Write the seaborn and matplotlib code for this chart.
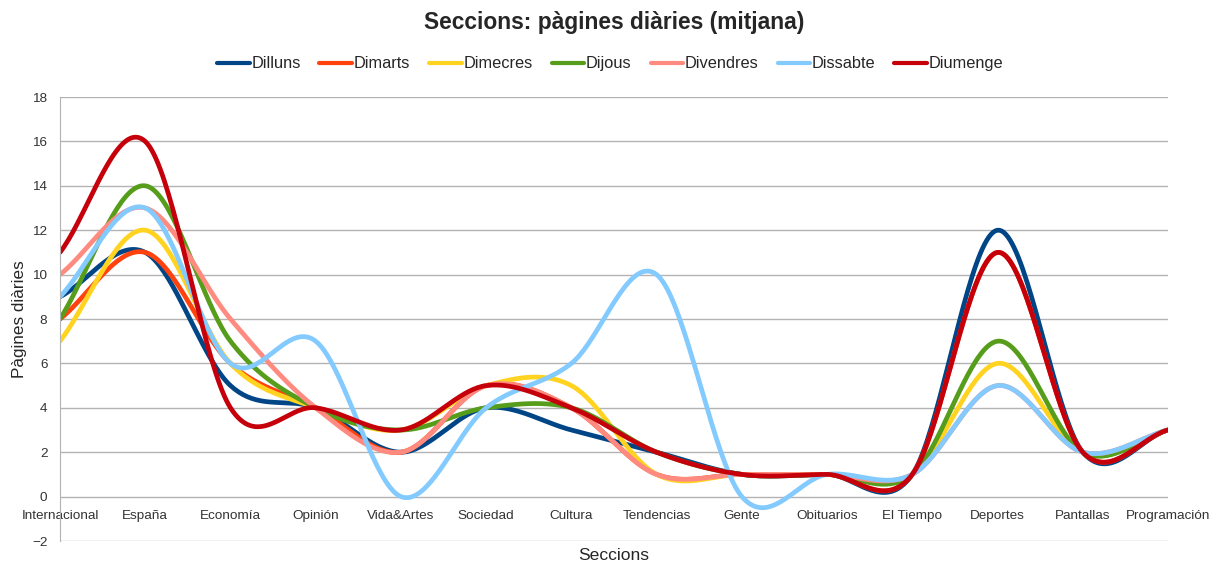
import numpy as np
import pandas as pd
import seaborn as sns
import matplotlib.pyplot as plt
from matplotlib import font_manager

# data
sections = ['Internacional', 'España', 'Economía', 'Opinión', 'Vida&Artes', 'Sociedad', 'Cultura',
            'Tendencias', 'Gente', 'Obituarios', 'El Tiempo', 'Deportes', 'Pantallas', 'Programación']
days = ['Dilluns', 'Dimarts', 'Dimecres', 'Dijous', 'Divendres', 'Dissabte', 'Diumenge']
dilluns = [9, 11, 5, 4, 2, 4, 3, 2, 1, 1, 1, 12, 2, 3]
dimarts = [8, 11, 6, 4, 2, 5, 4, 1, 1, 1, 1, 11, 2, 3]
dimecres = [7, 12, 6, 4, 3, 5, 5, 1, 1, 1, 1, 6, 2, 3]
dijous = [8, 14, 7, 4, 3, 4, 4, 2, 1, 1, 1, 7, 2, 3]
divendres = [10, 13, 8, 4, 2, 5, 4, 1, 1, 1, 1, 5, 2, 3]
dissabte = [9, 13, 6, 7, 0, 4, 6, 10, 0, 1, 1, 5, 2, 3]
diumenge = [11, 16, 4, 4, 3, 5, 4, 2, 1, 1, 1, 11, 2, 3]
colors = ['#004586', '#ff420e', '#ffd320', '#579d1c', '#ff8a80', '#83caff', '#c5000b']


def smooth(y, n=40):
    # cardinal (catmull-rom) spline through the points, like the office chart smoothing
    y = np.asarray(y, dtype=float)
    k = len(y)
    m = np.zeros(k)
    m[1:-1] = (y[2:] - y[:-2]) / 2
    m[0] = y[1] - y[0]
    m[-1] = y[-1] - y[-2]
    xs, ys = [], []
    for i in range(k - 1):
        t = np.linspace(0, 1, n, endpoint=(i == k - 2))
        h00 = 2 * t**3 - 3 * t**2 + 1
        h10 = t**3 - 2 * t**2 + t
        h01 = -2 * t**3 + 3 * t**2
        h11 = t**3 - t**2
        xs.append(i + t)
        ys.append(h00 * y[i] + h10 * m[i] + h01 * y[i + 1] + h11 * m[i + 1])
    return np.concatenate(xs), np.concatenate(ys)


series = [dilluns, dimarts, dimecres, dijous, divendres, dissabte, diumenge]
frames = []
for day, vals in zip(days, series):
    xs, ys = smooth(vals)
    frames.append(pd.DataFrame({'x': xs, 'y': ys, 'dia': day}))
df = pd.concat(frames, ignore_index=True)

sns.set_style('white')
plt.rcParams['font.family'] = ['Liberation Sans', 'DejaVu Sans']

# legend text is a narrow face in the original
installed = {f.name for f in font_manager.fontManager.ttflist}
if 'Liberation Sans Narrow' in installed:
    leg_font, leg_size = 'Liberation Sans Narrow', 13.7
elif 'DejaVu Sans Condensed' in installed:
    leg_font, leg_size = 'DejaVu Sans Condensed', 11.5
else:
    leg_font, leg_size = 'Liberation Sans', 11.8

fig = plt.figure(figsize=(12.13, 5.61), dpi=100)
ax = fig.add_axes([60 / 1213, 20 / 561, 1108 / 1213, 444 / 561])

sns.lineplot(data=df, x='x', y='y', hue='dia', hue_order=days, palette=colors,
             sort=False, estimator=None, linewidth=3.4, ax=ax)

ax.set_xlim(0, 13)
ax.set_ylim(-2, 18)
ax.set_yticks(range(-2, 19, 2))
ax.set_xticks(range(len(sections)))
ax.set_xticklabels(sections)
ax.grid(axis='y', color='#b3b3b3', linewidth=1)
ax.set_axisbelow(True)
for side in ['top', 'right']:
    ax.spines[side].set_visible(False)
ax.spines['left'].set_color('#b3b3b3')
ax.spines['bottom'].set_position(('data', 0))
ax.spines['bottom'].set_visible(False)
ax.tick_params(axis='both', length=0, labelsize=9.7, colors='#333333')
ax.tick_params(axis='y', pad=9)
ax.tick_params(axis='x', pad=10)

ax.set_xlabel('Seccions', fontsize=12.6, va='center')
ax.set_ylabel('Pàgines diàries', fontsize=12.3, va='center')
ax.xaxis.set_label_coords(0.5, -0.033)
ax.yaxis.set_label_coords(-0.037, 0.5)

handles, labels = ax.get_legend_handles_labels()
ax.get_legend().remove()
leg = fig.legend(handles, labels, loc='center', bbox_to_anchor=(0.503, 1 - 64 / 561), ncol=7,
                 frameon=False, handlelength=2.0, handletextpad=0.1, columnspacing=1.15,
                 prop={'family': leg_font, 'size': leg_size})
for line in leg.get_lines():
    line.set_linewidth(3)

fig.text(0.506, 1 - 22 / 561, 'Seccions: pàgines diàries (mitjana)', ha='center', va='center',
         fontsize=16.4, fontweight='bold')

fig.savefig('out.png', dpi=100)
